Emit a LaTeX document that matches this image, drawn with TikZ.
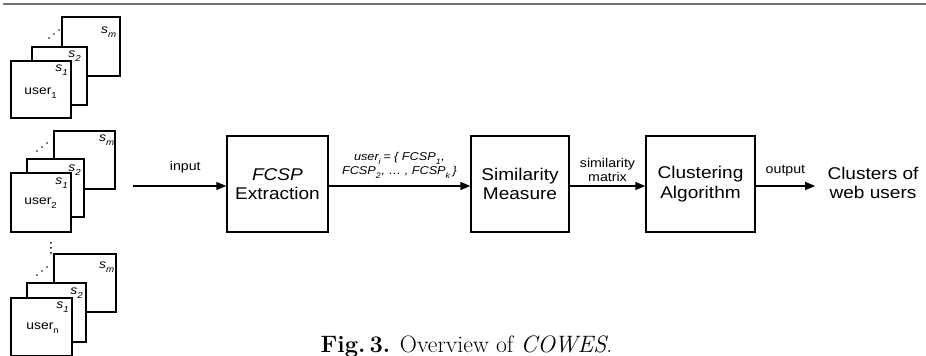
\documentclass[tikz,border=0pt]{standalone}
\usepackage{fontspec}
\newfontfamily\arialfont[FakeStretch=1.12]{Liberation Sans}
\usetikzlibrary{arrows.meta,positioning}
\def\bigfont{\arialfont\fontsize{12.75}{14.5}\selectfont}
\def\smallfont{\arialfont\fontsize{9.5}{10}\selectfont}
\def\tinyfont{\arialfont\fontsize{9.3}{10}\selectfont}
\def\lowsub#1{\raisebox{-0.35ex}{\textsubscript{#1}}}
\def\sessdots(#1,#2){\fill (#1,#2) circle (0.8) ++(5,-4) circle (0.8) ++(5,-4) circle (0.8);}

\begin{document}
\begin{tikzpicture}[x=0.75pt, y=-0.75pt,
	sess/.style={draw, fill=white, line width=1pt},
	sesslbl/.style={font=\tinyfont, inner sep=0pt},
	procbox/.style={draw, line width=1pt, minimum height=72pt, align=center, font=\bigfont, inner sep=0pt},
	flow/.style={-{Triangle[length=7.5pt,width=6pt]}, line width=1pt},
	flowlbl/.style={font=\smallfont, align=center, inner sep=0pt}]
		%%%%% START %%%%%
		\useasboundingbox (0,0) rectangle (926,356);
		\draw[line width=1.5pt, color=black!55] (3,4) -- (926,4);
		
		% first user
		\draw[sess] (62,17) rectangle (120,76);
		\draw[sess] (32,47) rectangle (87,105);
		\draw[sess] (11,61) rectangle (71,118);
		\sessdots(49,38)
		\node[sesslbl] (sm1) at (109,32) {\textit{s}\lowsub{\textit{m}}};
		\node[sesslbl] (stwo1) at (75,56) {\textit{s}\lowsub{\textit{2}}};
		\node[sesslbl] (sone1) at (62,70) {\textit{s}\lowsub{\textit{1}}};
		\node[sesslbl] (usr1) at (41,93) {user\lowsub{1}};
		
		% second user
		\draw[sess] (54,131) rectangle (115,189);
		\draw[sess] (27,159) rectangle (84,217);
		\draw[sess] (11,173) rectangle (71,232);
		\sessdots(37,151)
		\node[sesslbl] (sm2) at (107,140) {\textit{s}\lowsub{\textit{m}}};
		\node[sesslbl] (stwo2) at (75,170) {\textit{s}\lowsub{\textit{2}}};
		\node[sesslbl] (sone2) at (62,183) {\textit{s}\lowsub{\textit{1}}};
		\node[sesslbl] (usr2) at (41,203) {user\lowsub{2}};
		
		% last user
		\fill (51,243) circle (1) (51,248) circle (1) (51,253) circle (1);
		\draw[sess] (54,254) rectangle (116,312);
		\draw[sess] (27,283) rectangle (86,342);
		\draw[sess] (11,298) rectangle (72,356);
		\sessdots(37,275)
		\node[sesslbl] (smn) at (107,267) {\textit{s}\lowsub{\textit{m}}};
		\node[sesslbl] (stwon) at (77,293) {\textit{s}\lowsub{\textit{2}}};
		\node[sesslbl] (sonen) at (63,307) {\textit{s}\lowsub{\textit{1}}};
		\node[sesslbl] (usrn) at (43,328) {user\lowsub{n}};
		
		% pipeline
		\coordinate (inp) at (133,186);
		\node[procbox, minimum width=75.75pt] (fcsp) at (277.5,184) {\textit{FCSP}\\Extraction};
		\node[procbox, minimum width=73.5pt] (sim) at (520,184) {Similarity\\Measure};
		\node[procbox, minimum width=81.75pt] (clu) at (700.5,184) {Clustering\\Algorithm};
		\node[font=\bigfont, align=center, inner sep=0pt] (res) at (873,183) {Clusters of\\web users};
		
		\draw[flow] (inp) -- (inp -| fcsp.west) node[flowlbl, pos=0.56, above=9pt] {input};
		\draw[flow] (fcsp.east |- inp) -- (inp -| sim.west)
			node[flowlbl, midway, above=5pt, font=\arialfont\fontsize{8.5}{10.5}\selectfont\itshape] {user\lowsub{i}\,= \{ FCSP\lowsub{1},\\FCSP\lowsub{2}, \dots\ , FCSP\lowsub{k}\,\}};
		\draw[flow] (sim.east |- inp) -- (inp -| clu.west) node[flowlbl, midway, above=3pt] {similarity\\matrix};
		\draw[flow] (clu.east |- inp) -- ([xshift=-9pt]inp -| res.west) node[flowlbl, midway, above=7pt] {output};
		
		\node[anchor=base, inner sep=0pt] (caption) at (466.5,353) {\fontsize{17.8}{19}\selectfont\textbf{Fig.\,3.} Overview of \textit{COWES}.};
		%%%%% END %%%%%
	\end{tikzpicture}
\end{document}
